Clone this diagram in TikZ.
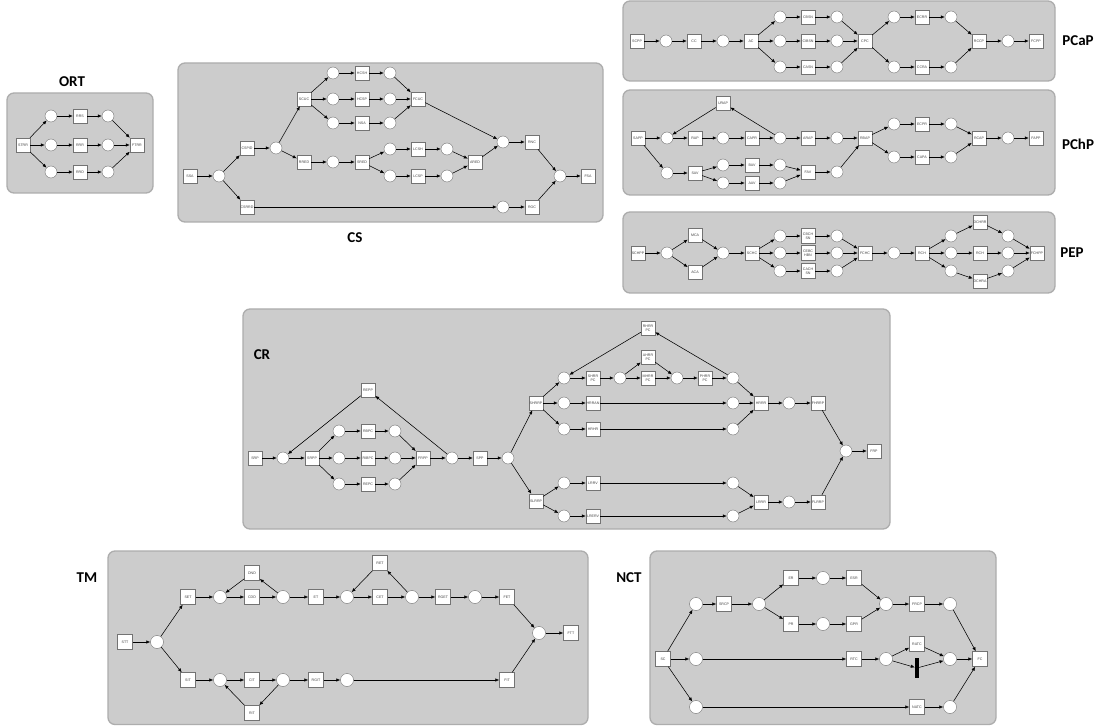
\documentclass[tikz,border=0pt]{standalone}
\usepackage{fontspec}
\usetikzlibrary{arrows.meta}
\newfontfamily\ttlfont{Carlito}
\newfontfamily\lblfont{Liberation Sans}
\tikzset{
  tr/.style={draw=black!55, fill=white, minimum width=14, minimum height=14, inner sep=0.4pt,
    font=\lblfont\fontsize{3.6}{3.9}\selectfont, text=black!75, align=center},
  trb/.style={tr, minimum width=15, minimum height=15},
  pl/.style={circle, draw=black!55, fill=white, minimum size=12, inner sep=0pt},
  plb/.style={pl, minimum size=13},
  arc/.style={-{Latex[length=4pt,width=3.4pt]}, black, line width=0.55pt},
  panel/.style={fill=black!20, draw=black!32, line width=1.3pt, rounded corners=7pt},
  ttl/.style={font=\ttlfont\bfseries\fontsize{15}{17}\selectfont, text=black}
}
\begin{document}
\begin{tikzpicture}[x=1pt,y=-1pt]
\useasboundingbox (0,0) rectangle (1096,727);
\fill[white] (0,0) rectangle (1096,727);
% panels
\draw[panel] (7,93) rectangle (153,193);
\draw[panel] (178,63) rectangle (603,222);
\draw[panel] (623,1) rectangle (1055,81);
\draw[panel] (623,90) rectangle (1055,195);
\draw[panel] (623,212) rectangle (1055,293);
\draw[panel] (243,309) rectangle (890,529);
\draw[panel] (108,551) rectangle (588,724.5);
\draw[panel] (650,551) rectangle (996,724.5);
% titles
\node[ttl] (t-ort) at (72,82) {ORT};
\node[ttl] (t-cs) at (355,238) {CS};
\node[ttl] (t-pcap) at (1078,41) {PCaP};
\node[ttl] (t-pchp) at (1078,144) {PChP};
\node[ttl] (t-pep) at (1072,253) {PEP};
\node[ttl] (t-cr) at (262,355) {CR};
\node[ttl] (t-tm) at (87,578) {TM};
\node[ttl] (t-nct) at (629,578) {NCT};

% ---------------- ORT
\node[tr] (o-s) at (23,145) {STRR};
\node[pl] (o-p1) at (51,116) {}; \node[pl] (o-p2) at (51,145) {}; \node[pl] (o-p3) at (51,172) {};
\node[tr] (o-t1) at (80,116) {RRS}; \node[tr] (o-t2) at (80,145) {RRR}; \node[tr] (o-t3) at (80,172) {RRD};
\node[pl] (o-q1) at (108,116) {}; \node[pl] (o-q2) at (108,145) {}; \node[pl] (o-q3) at (108,172) {};
\node[tr] (o-f) at (137,145) {FTRR};
\foreach \a/\b in {o-s/o-p1,o-s/o-p2,o-s/o-p3,o-p1/o-t1,o-p2/o-t2,o-p3/o-t3,o-t1/o-q1,o-t2/o-q2,o-t3/o-q3,o-q1/o-f,o-q2/o-f,o-q3/o-f}
  \draw[arc] (\a) -- (\b);

% ---------------- CS
\node[tr] (cs-ssa) at (190,176) {SSA};
\node[pl] (cs-p0) at (219,176) {};
\node[tr] (cs-cspid) at (247,148) {CSPID};
\node[tr] (cs-csrrd) at (247,207) {CSRRD};
\node[pl] (cs-p1) at (276,148) {};
\node[tr] (cs-scuc) at (304,99) {SCUC};
\node[tr] (cs-rred) at (304,162) {RRED};
\node[pl] (cs-a1) at (333,73) {}; \node[pl] (cs-a2) at (333,99) {}; \node[pl] (cs-a3) at (333,123) {};
\node[tr] (cs-hcsh) at (362,73) {HCSH}; \node[tr] (cs-hcsp) at (362,99) {HCSP}; \node[tr] (cs-nsa) at (362,123) {NSA};
\node[pl] (cs-b1) at (390,73) {}; \node[pl] (cs-b2) at (390,99) {}; \node[pl] (cs-b3) at (390,123) {};
\node[tr] (cs-fcuc) at (418,99) {FCUC};
\node[pl] (cs-p2) at (333,162) {};
\node[tr] (cs-sred) at (362,162) {SRED};
\node[pl] (cs-c1) at (390,149) {}; \node[pl] (cs-c2) at (390,176) {};
\node[tr] (cs-lcsh) at (418,149) {LCSH}; \node[tr] (cs-lcsp) at (418,176) {LCSP};
\node[pl] (cs-d1) at (447,149) {}; \node[pl] (cs-d2) at (447,176) {};
\node[tr] (cs-ared) at (475,162) {ARED};
\node[pl] (cs-p3) at (503,142) {};
\node[tr] (cs-rnc) at (532,142) {RNC};
\node[pl] (cs-p4) at (560,176) {};
\node[tr] (cs-fsa) at (588,176) {FSA};
\node[pl] (cs-p5) at (503,207) {};
\node[tr] (cs-roc) at (532,207) {ROC};
\foreach \a/\b in {cs-ssa/cs-p0,cs-p0/cs-cspid,cs-p0/cs-csrrd,cs-cspid/cs-p1,cs-p1/cs-scuc,cs-p1/cs-rred,
  cs-scuc/cs-a1,cs-scuc/cs-a2,cs-scuc/cs-a3,cs-a1/cs-hcsh,cs-a2/cs-hcsp,cs-a3/cs-nsa,cs-hcsh/cs-b1,cs-hcsp/cs-b2,cs-nsa/cs-b3,
  cs-b1/cs-fcuc,cs-b2/cs-fcuc,cs-b3/cs-fcuc,cs-fcuc/cs-p3,cs-rred/cs-p2,cs-p2/cs-sred,cs-sred/cs-c1,cs-sred/cs-c2,
  cs-c1/cs-lcsh,cs-c2/cs-lcsp,cs-lcsh/cs-d1,cs-lcsp/cs-d2,cs-d1/cs-ared,cs-d2/cs-ared,cs-ared/cs-p3,cs-p3/cs-rnc,
  cs-rnc/cs-p4,cs-p4/cs-fsa,cs-csrrd/cs-p5,cs-p5/cs-roc,cs-roc/cs-p4}
  \draw[arc] (\a) -- (\b);

% ---------------- PCaP
\node[tr] (ca-s) at (637,41) {SCPP};
\node[pl] (ca-p1) at (666,41) {};
\node[tr] (ca-cc) at (694,41) {CC};
\node[pl] (ca-p2) at (723,41) {};
\node[tr] (ca-ac) at (751,41) {AC};
\node[pl] (ca-a1) at (780,17) {}; \node[pl] (ca-a2) at (780,41) {}; \node[pl] (ca-a3) at (780,67) {};
\node[tr] (ca-cbsn) at (808,17) {CBSN}; \node[tr] (ca-cibsn) at (808,41) {CIBSN}; \node[tr] (ca-casn) at (808,67) {CASN};
\node[pl] (ca-b1) at (837,17) {}; \node[pl] (ca-b2) at (837,41) {}; \node[pl] (ca-b3) at (837,67) {};
\node[tr] (ca-cpc) at (865,41) {CPC};
\node[pl] (ca-c1) at (894,17) {}; \node[pl] (ca-c2) at (894,67) {};
\node[tr] (ca-ecrr) at (922,17) {ECRR}; \node[tr] (ca-ccra) at (922,67) {CCRA};
\node[pl] (ca-d1) at (951,17) {}; \node[pl] (ca-d2) at (951,67) {};
\node[tr] (ca-rccp) at (979,41) {RCCP};
\node[pl] (ca-p3) at (1008,41) {};
\node[tr] (ca-fcpp) at (1036,41) {FCPP};
\foreach \a/\b in {ca-s/ca-p1,ca-p1/ca-cc,ca-cc/ca-p2,ca-p2/ca-ac,ca-ac/ca-a1,ca-ac/ca-a2,ca-ac/ca-a3,
  ca-a1/ca-cbsn,ca-a2/ca-cibsn,ca-a3/ca-casn,ca-cbsn/ca-b1,ca-cibsn/ca-b2,ca-casn/ca-b3,ca-b1/ca-cpc,ca-b2/ca-cpc,ca-b3/ca-cpc,
  ca-cpc/ca-c1,ca-cpc/ca-c2,ca-c1/ca-ecrr,ca-c2/ca-ccra,ca-ecrr/ca-d1,ca-ccra/ca-d2,ca-d1/ca-rccp,ca-d2/ca-rccp,
  ca-rccp/ca-p3,ca-p3/ca-fcpp}
  \draw[arc] (\a) -- (\b);

% ---------------- PChP
\node[tr] (ch-s) at (638,138) {SAPP};
\node[pl] (ch-p1) at (667,138) {};
\node[tr] (ch-rap) at (695,138) {RAP};
\node[pl] (ch-p2) at (723,138) {};
\node[tr] (ch-capr) at (752,138) {CAPR};
\node[pl] (ch-p3) at (780,138) {};
\node[tr] (ch-arap) at (808,138) {ARAP};
\node[pl] (ch-p4) at (837,138) {};
\node[tr] (ch-rbap) at (865,138) {RBAP};
\node[tr] (ch-urap) at (723,103) {URAP};
\node[pl] (ch-q1) at (667,173) {};
\node[tr] (ch-sav) at (695,173) {SAV};
\node[pl] (ch-a1) at (723,165) {}; \node[pl] (ch-a2) at (723,183) {};
\node[tr] (ch-bav) at (752,165) {BAV}; \node[tr] (ch-aav) at (752,183) {AAV};
\node[pl] (ch-b1) at (780,165) {}; \node[pl] (ch-b2) at (780,183) {};
\node[tr] (ch-fav) at (808,172) {FAV};
\node[pl] (ch-q2) at (837,172) {};
\node[pl] (ch-c1) at (894,124) {}; \node[pl] (ch-c2) at (894,157) {};
\node[tr] (ch-ecpr) at (922,124) {ECPR}; \node[tr] (ch-capa) at (922,157) {CAPA};
\node[pl] (ch-d1) at (951,124) {}; \node[pl] (ch-d2) at (951,157) {};
\node[tr] (ch-rcap) at (979,138) {RCAP};
\node[pl] (ch-p5) at (1008,138) {};
\node[tr] (ch-fapp) at (1036,138) {FAPP};
\foreach \a/\b in {ch-s/ch-p1,ch-p1/ch-rap,ch-rap/ch-p2,ch-p2/ch-capr,ch-capr/ch-p3,ch-p3/ch-arap,ch-arap/ch-p4,ch-p4/ch-rbap,
  ch-p3/ch-urap,ch-urap/ch-p1,ch-s/ch-q1,ch-q1/ch-sav,ch-sav/ch-a1,ch-sav/ch-a2,ch-a1/ch-bav,ch-a2/ch-aav,ch-bav/ch-b1,ch-aav/ch-b2,
  ch-b1/ch-fav,ch-b2/ch-fav,ch-fav/ch-q2,ch-q2/ch-rbap,ch-rbap/ch-c1,ch-rbap/ch-c2,ch-c1/ch-ecpr,ch-c2/ch-capa,ch-ecpr/ch-d1,
  ch-capa/ch-d2,ch-d1/ch-rcap,ch-d2/ch-rcap,ch-rcap/ch-p5,ch-p5/ch-fapp}
  \draw[arc] (\a) -- (\b);

% ---------------- PEP
\node[tr] (pe-s) at (638,253) {SCHPP};
\node[pl] (pe-p1) at (667,253) {};
\node[tr] (pe-mca) at (695,235) {MCA}; \node[tr] (pe-aca) at (695,272) {ACA};
\node[pl] (pe-p2) at (723,253) {};
\node[tr] (pe-schc) at (752,253) {SCHC};
\node[pl] (pe-a1) at (780,236) {}; \node[pl] (pe-a2) at (780,253) {}; \node[pl] (pe-a3) at (780,271) {};
\node[tr, minimum height=15] (pe-t1) at (808,236) {CBCH\\SN};
\node[tr, minimum height=15] (pe-t2) at (808,253) {CEBC\\HBN};
\node[tr, minimum height=15] (pe-t3) at (808,271) {CACH\\SN};
\node[pl] (pe-b1) at (837,236) {}; \node[pl] (pe-b2) at (837,253) {}; \node[pl] (pe-b3) at (837,271) {};
\node[tr] (pe-fchc) at (865,253) {FCHC};
\node[pl] (pe-p3) at (894,253) {};
\node[tr] (pe-rch) at (922,253) {RCH};
\node[pl] (pe-c1) at (951,236) {}; \node[pl] (pe-c2) at (951,253) {}; \node[pl] (pe-c3) at (951,271) {};
\node[tr] (pe-dchrr) at (980,222) {DCHRR}; \node[tr] (pe-rch2) at (980,253) {RCH}; \node[tr] (pe-dchra) at (980,281) {DCHRA};
\node[pl] (pe-d1) at (1008,236) {}; \node[pl] (pe-d2) at (1008,253) {}; \node[pl] (pe-d3) at (1008,271) {};
\node[tr] (pe-f) at (1037,253) {FCHPP};
\foreach \a/\b in {pe-s/pe-p1,pe-p1/pe-mca,pe-p1/pe-aca,pe-mca/pe-p2,pe-aca/pe-p2,pe-p2/pe-schc,pe-schc/pe-a1,pe-schc/pe-a2,pe-schc/pe-a3,
  pe-a1/pe-t1,pe-a2/pe-t2,pe-a3/pe-t3,pe-t1/pe-b1,pe-t2/pe-b2,pe-t3/pe-b3,pe-b1/pe-fchc,pe-b2/pe-fchc,pe-b3/pe-fchc,
  pe-fchc/pe-p3,pe-p3/pe-rch,pe-rch/pe-c1,pe-rch/pe-c2,pe-rch/pe-c3,pe-c1/pe-dchrr,pe-c2/pe-rch2,pe-c3/pe-dchra,
  pe-dchrr/pe-d1,pe-rch2/pe-d2,pe-dchra/pe-d3,pe-d1/pe-f,pe-d2/pe-f,pe-d3/pe-f}
  \draw[arc] (\a) -- (\b);

% ---------------- CR
\node[tr] (cr-srp) at (255,458) {SRP};
\node[pl] (cr-p1) at (283,458) {};
\node[tr] (cr-srpp) at (312,458) {SRPP};
\node[pl] (cr-a1) at (339,431) {}; \node[pl] (cr-a2) at (339,458) {}; \node[pl] (cr-a3) at (339,484) {};
\node[tr] (cr-rbpc) at (368,431) {RBPC}; \node[tr] (cr-ribpc) at (368,458) {RIBPC}; \node[tr] (cr-repc) at (368,484) {REPC};
\node[pl] (cr-b1) at (395,431) {}; \node[pl] (cr-b2) at (395,458) {}; \node[pl] (cr-b3) at (395,484) {};
\node[tr] (cr-frpp) at (423,458) {FRPP};
\node[pl] (cr-p2) at (452,458) {};
\node[tr] (cr-spp) at (480,458) {SPP};
\node[pl] (cr-p3) at (508,458) {};
\node[tr] (cr-repp) at (368,390) {REPP};
\node[tr] (cr-shrrp) at (536,403) {SHRRP};
\node[tr] (cr-slrrp) at (536,501) {SLRRP};
\node[pl] (cr-c1) at (564,378) {}; \node[pl] (cr-c2) at (564,403) {}; \node[pl] (cr-c3) at (564,429) {};
\node[tr] (cr-shrrpc) at (593,378) {SHRR\\PC}; \node[tr] (cr-hrran) at (593,403) {HRRAN}; \node[tr] (cr-hrhr) at (593,429) {HRHR};
\node[pl] (cr-p4) at (620,378) {};
\node[tr] (cr-ahrr) at (648,357) {AHRR\\PC}; \node[tr] (cr-mhrr) at (648,378) {MHRR\\PC};
\node[pl] (cr-p5) at (677,378) {};
\node[tr] (cr-phrr) at (705,378) {PHRR\\PC};
\node[tr] (cr-rhrr) at (648,328) {RHRR\\PC};
\node[pl] (cr-d1) at (733,378) {}; \node[pl] (cr-d2) at (733,403) {}; \node[pl] (cr-d3) at (733,429) {};
\node[tr] (cr-hrrr) at (761,403) {HRRR};
\node[pl] (cr-p6) at (789,403) {};
\node[tr] (cr-fhrrp) at (818,403) {FHRRP};
\node[pl] (cr-p7) at (846,451) {};
\node[tr] (cr-frp) at (874,451) {FRP};
\node[pl] (cr-e1) at (564,483) {}; \node[pl] (cr-e2) at (564,516) {};
\node[tr] (cr-lrrv) at (593,483) {LRRV}; \node[tr] (cr-lrerv) at (593,516) {LRERV};
\node[pl] (cr-f1) at (733,483) {}; \node[pl] (cr-f2) at (733,516) {};
\node[tr] (cr-lrrr) at (761,502) {LRRR};
\node[pl] (cr-p8) at (789,502) {};
\node[tr] (cr-flrrp) at (818,502) {FLRRP};
\foreach \a/\b in {cr-srp/cr-p1,cr-p1/cr-srpp,cr-srpp/cr-a1,cr-srpp/cr-a2,cr-srpp/cr-a3,cr-a1/cr-rbpc,cr-a2/cr-ribpc,cr-a3/cr-repc,
  cr-rbpc/cr-b1,cr-ribpc/cr-b2,cr-repc/cr-b3,cr-b1/cr-frpp,cr-b2/cr-frpp,cr-b3/cr-frpp,cr-frpp/cr-p2,cr-p2/cr-spp,cr-spp/cr-p3,
  cr-p2/cr-repp,cr-repp/cr-p1,cr-p3/cr-shrrp,cr-p3/cr-slrrp,cr-shrrp/cr-c1,cr-shrrp/cr-c2,cr-shrrp/cr-c3,
  cr-c1/cr-shrrpc,cr-shrrpc/cr-p4,cr-p4/cr-ahrr,cr-p4/cr-mhrr,cr-ahrr/cr-p5,cr-mhrr/cr-p5,cr-p5/cr-phrr,cr-phrr/cr-d1,
  cr-d1/cr-rhrr,cr-rhrr/cr-c1,cr-d1/cr-hrrr,cr-c2/cr-hrran,cr-hrran/cr-d2,cr-d2/cr-hrrr,cr-c3/cr-hrhr,cr-hrhr/cr-d3,cr-d3/cr-hrrr,
  cr-hrrr/cr-p6,cr-p6/cr-fhrrp,cr-fhrrp/cr-p7,cr-p7/cr-frp,cr-slrrp/cr-e1,cr-slrrp/cr-e2,cr-e1/cr-lrrv,cr-e2/cr-lrerv,
  cr-lrrv/cr-f1,cr-lrerv/cr-f2,cr-f1/cr-lrrr,cr-f2/cr-lrrr,cr-lrrr/cr-p8,cr-p8/cr-flrrp,cr-flrrp/cr-p7}
  \draw[arc] (\a) -- (\b);

% ---------------- TM
\node[trb] (tm-stt) at (125,642) {STT};
\node[plb] (tm-p0) at (157,642) {};
\node[trb] (tm-set) at (188,597) {SET}; \node[trb] (tm-sit) at (188,680) {SIT};
\node[plb] (tm-a1) at (220,597) {};
\node[trb] (tm-cdd) at (252,597) {CDD}; \node[trb] (tm-dnd) at (252,573) {DND};
\node[plb] (tm-a2) at (283,597) {};
\node[trb] (tm-et) at (316,597) {ET};
\node[plb] (tm-a3) at (347,597) {};
\node[trb] (tm-cet) at (380,597) {CET}; \node[trb] (tm-ret) at (380,563) {RET};
\node[plb] (tm-a4) at (412,597) {};
\node[trb] (tm-rget) at (443,597) {RGET};
\node[plb] (tm-a5) at (475,597) {};
\node[trb] (tm-fet) at (507,597) {FET};
\node[plb] (tm-p9) at (539,633) {};
\node[trb] (tm-ftt) at (571,633) {FTT};
\node[plb] (tm-b1) at (220,680) {};
\node[trb] (tm-cit) at (252,680) {CIT}; \node[trb] (tm-rit) at (252,713) {RIT};
\node[plb] (tm-b2) at (283,680) {};
\node[trb] (tm-rgit) at (316,680) {RGIT};
\node[plb] (tm-b3) at (347,680) {};
\node[trb] (tm-fit) at (507,680) {FIT};
\foreach \a/\b in {tm-stt/tm-p0,tm-p0/tm-set,tm-p0/tm-sit,tm-set/tm-a1,tm-a1/tm-cdd,tm-cdd/tm-a2,tm-a2/tm-dnd,tm-dnd/tm-a1,
  tm-a2/tm-et,tm-et/tm-a3,tm-a3/tm-cet,tm-cet/tm-a4,tm-a4/tm-ret,tm-ret/tm-a3,tm-a4/tm-rget,tm-rget/tm-a5,tm-a5/tm-fet,
  tm-fet/tm-p9,tm-p9/tm-ftt,tm-sit/tm-b1,tm-b1/tm-cit,tm-cit/tm-b2,tm-b2/tm-rit,tm-rit/tm-b1,tm-b2/tm-rgit,tm-rgit/tm-b3,
  tm-b3/tm-fit,tm-fit/tm-p9}
  \draw[arc] (\a) -- (\b);

% ---------------- NCT
\node[trb] (nc-sc) at (663,659) {SC};
\node[plb] (nc-a1) at (696,604) {}; \node[plb] (nc-a2) at (696,659) {}; \node[plb] (nc-a3) at (696,707) {};
\node[trb] (nc-srcp) at (724,604) {SRCP};
\node[plb] (nc-p1) at (759,604) {};
\node[trb] (nc-er) at (791,578) {ER}; \node[trb] (nc-pr) at (791,624) {PR};
\node[plb] (nc-b1) at (823,578) {}; \node[plb] (nc-b2) at (823,624) {};
\node[trb] (nc-esr) at (854,578) {ESR}; \node[trb] (nc-gpr) at (854,624) {GPR};
\node[plb] (nc-p2) at (886,604) {};
\node[trb] (nc-frcp) at (917,604) {FRCP};
\node[plb] (nc-p3) at (950,604) {};
\node[trb] (nc-fc) at (980,659) {FC};
\node[trb] (nc-rtc) at (854,659) {RTC};
\node[plb] (nc-p4) at (886,659) {};
\node[trb] (nc-ratc) at (917,644) {RATC};
\node[fill=black, minimum width=4, minimum height=20, inner sep=0pt] (nc-bar) at (917,668) {};
\node[plb] (nc-p5) at (950,659) {};
\node[trb] (nc-natc) at (917,707) {NATC};
\node[plb] (nc-p6) at (950,707) {};
\foreach \a/\b in {nc-sc/nc-a1,nc-sc/nc-a2,nc-sc/nc-a3,nc-a1/nc-srcp,nc-srcp/nc-p1,nc-p1/nc-er,nc-p1/nc-pr,nc-er/nc-b1,
  nc-b1/nc-esr,nc-esr/nc-p2,nc-pr/nc-b2,nc-b2/nc-gpr,nc-gpr/nc-p2,nc-p2/nc-frcp,nc-frcp/nc-p3,nc-p3/nc-fc,nc-a2/nc-rtc,
  nc-rtc/nc-p4,nc-p4/nc-ratc,nc-p4/nc-bar,nc-ratc/nc-p5,nc-bar/nc-p5,nc-p5/nc-fc,nc-a3/nc-natc,nc-natc/nc-p6,nc-p6/nc-fc}
  \draw[arc] (\a) -- (\b);
\end{tikzpicture}
\end{document}
